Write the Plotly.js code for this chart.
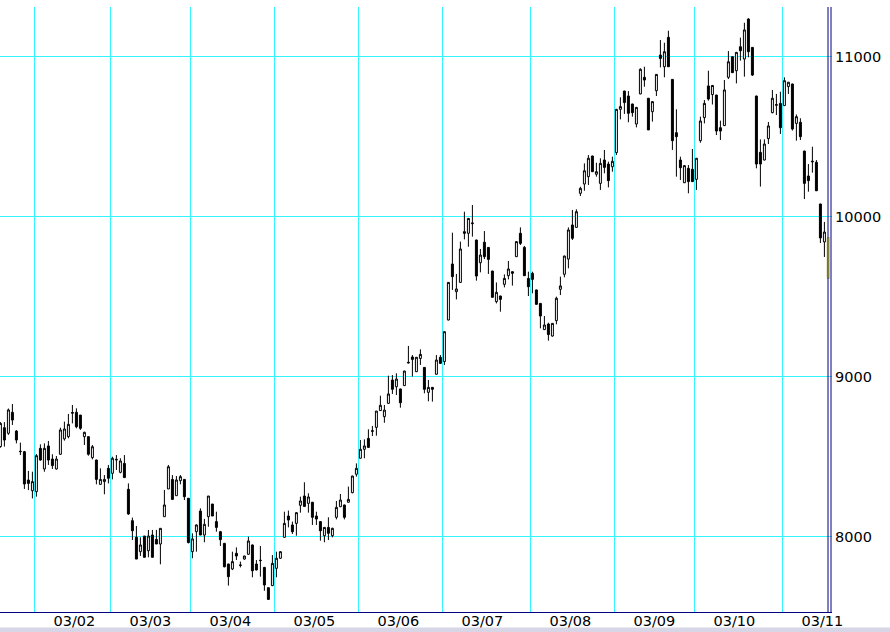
<!DOCTYPE html>
<html><head><meta charset="utf-8">
<script src="https://cdn.plot.ly/plotly-3.0.1.min.js"></script>
<style>html,body{margin:0;padding:0;background:#fff;overflow:hidden}</style>
</head><body><div id="chart" style="width:890px;height:632px"></div>
<script>
// Daily OHLC, one entry per trading day (2003/01/21 .. 2003/11/19)
const openP = [
8562,8680,8645,8776,8659,8530,8530,8353,8286,8280,
8551,8422,8566,8484,8422,8514,8610,8624,8770,8776,
8759,8624,8624,8493,8478,8326,8343,8426,8395,8478,
8401,8457,8295,8099,7995,7905,8003,7911,8009,7982,
7953,8124,8297,8357,8255,8349,8357,8239,7905,8030,
8159,8009,8124,8203,8093,8030,7957,7828,7797,7895,
7822,7859,7889,7947,7828,7849,7807,7680,7693,7801,
7864,7995,8128,8072,8082,8195,8253,8207,8214,8128,
8093,8005,8057,8005,8120,8186,8197,8214,8274,8389,
8489,8545,8613,8657,8682,8787,8749,8832,8978,8936,
8922,8943,9084,9122,9030,9113,9057,8901,8932,9014,
9120,9093,9353,9703,9530,9588,9905,9895,9955,9853,
9711,9839,9807,9659,9468,9503,9576,9630,9655,9749,
9895,9807,9613,9645,9541,9457,9293,9328,9253,9349,
9545,9639,9734,9947,9932,10145,10203,10249,10378,10264,
10207,10353,10328,10311,10399,10670,10784,10753,10703,10578,
10766,10870,10739,10655,10786,11009,10936,11120,10857,10524,
10353,10211,10301,10295,10232,10474,10618,10816,10762,10759,
10555,10568,10870,10999,10911,11061,10984,11234,11057,10753,
10401,10353,10487,10649,10695,10707,10693,10812,10828,10582,
10589,10409,10253,10341,10339,10078,9841,9866];
const highP = [
8715,8715,8800,8828,8665,8587,8535,8410,8405,8515,
8576,8582,8597,8514,8503,8680,8718,8766,8822,8801,
8759,8655,8626,8572,8480,8426,8384,8447,8499,8509,
8489,8509,8332,8118,8066,7995,8003,8041,8041,8041,
8051,8291,8447,8384,8378,8384,8357,8239,8020,8076,
8176,8110,8253,8203,8155,8035,7960,7830,7905,7932,
7843,7880,7999,7950,7853,7941,7810,7682,7884,7905,
7908,8155,8162,8093,8152,8249,8339,8270,8216,8155,
8095,8057,8120,8055,8222,8266,8199,8312,8380,8457,
8603,8607,8670,8691,8784,8880,8822,9005,9009,9020,
8924,9036,9191,9134,9122,9170,9059,8978,8934,9134,
9134,9282,9590,9899,9641,9843,10030,9990,10072,9855,
9797,9909,9809,9661,9588,9505,9638,9722,9657,9845,
9932,9816,9655,9655,9543,9459,9378,9336,9334,9499,
9624,9755,9932,10041,10045,10186,10332,10384,10380,10336,
10364,10416,10343,10374,10672,10745,10786,10784,10705,10684,
10926,10936,10741,10720,10890,11103,11086,11161,10859,10670,
10374,10320,10322,10422,10366,10624,10728,10911,10822,10761,
10599,10853,11034,11001,11028,11118,11211,11239,11059,10755,
10482,10482,10591,10791,10766,10780,10870,10841,10830,10638,
10614,10411,10328,10436,10353,10080,9966,9870];
const lowP = [
8555,8562,8635,8697,8582,8509,8297,8290,8238,8249,
8474,8405,8447,8422,8418,8510,8599,8614,8707,8676,
8666,8572,8505,8482,8326,8322,8264,8332,8357,8416,
8395,8368,8135,7978,7859,7878,7870,7870,7870,7953,
7826,8124,8297,8228,8255,8326,8228,7957,7864,7905,
8009,7964,8061,8128,8030,7941,7807,7693,7790,7853,
7807,7855,7885,7745,7788,7749,7661,7603,7690,7745,
7860,7993,8057,8016,8005,8149,8186,8149,8072,8072,
7974,7964,7978,7995,8107,8184,8107,8212,8270,8374,
8487,8489,8555,8628,8630,8785,8711,8830,8891,8884,
8805,8941,9082,9000,9028,9072,8895,8845,8843,9012,
9078,9072,9351,9541,9482,9586,9857,9811,9874,9599,
9651,9734,9641,9493,9457,9405,9557,9607,9568,9747,
9822,9628,9503,9520,9449,9301,9291,9224,9249,9326,
9509,9620,9676,9853,9930,10128,10161,10197,10278,10249,
10166,10270,10182,10280,10384,10607,10641,10589,10624,10557,
10764,10811,10541,10593,10753,10932,10870,10936,10416,10249,
10228,10209,10145,10216,10166,10461,10582,10724,10700,10509,
10478,10566,10859,10897,10832,10974,10874,10995,10878,10301,
10187,10351,10453,10645,10634,10516,10691,10766,10537,10474,
10478,10109,10155,10274,10159,9834,9747,9614];
const closeP = [
8707,8603,8791,8728,8603,8532,8328,8332,8343,8505,
8478,8551,8478,8443,8484,8666,8672,8701,8775,8686,
8676,8651,8514,8561,8357,8357,8357,8364,8489,8482,
8472,8368,8141,8036,7859,7947,7870,8003,7870,7953,
8051,8197,8436,8232,8353,8374,8249,7962,7985,8072,
8009,8076,8253,8128,8057,7980,7811,7749,7843,7878,
7820,7878,7972,7786,7791,7851,7697,7607,7832,7864,
7905,8082,8103,8030,8149,8222,8188,8247,8120,8109,
8036,8057,8020,8051,8182,8228,8120,8232,8378,8426,
8545,8566,8557,8661,8784,8820,8790,8891,8920,8984,
8836,9034,9088,9107,9120,9138,8920,8932,8920,9103,
9082,9280,9588,9624,9547,9797,9895,9988,9959,9628,
9759,9749,9732,9495,9526,9482,9613,9672,9645,9843,
9832,9630,9561,9607,9451,9378,9322,9262,9332,9489,
9566,9753,9916,9864,10030,10176,10286,10364,10280,10280,
10332,10307,10224,10345,10670,10687,10712,10645,10649,10682,
10920,10853,10541,10718,10888,10988,11030,10936,10474,10499,
10305,10318,10218,10218,10364,10597,10707,10734,10819,10534,
10534,10791,10967,10899,11026,11036,11166,11030,10884,10328,
10328,10453,10566,10739,10699,10555,10849,10839,10547,10624,
10499,10207,10224,10345,10161,9866,9903,9616];

// Month labels and the index of each month's first trading day
const monthLabels = ['03/02','03/03','03/04','03/05','03/06','03/07','03/08','03/09','03/10','03/11'];
const monthStart = [9, 28, 48, 69, 90, 111, 133, 154, 174, 196];
const yTicks = [8000, 9000, 10000, 11000];

const day = openP.map((_, i) => i);
const last = day.length - 1;

const grid = '#33F5FF';
const main = {
  type: 'candlestick', x: day, open: openP, high: highP, low: lowP, close: closeP,
  increasing: {line: {color: '#000000', width: 1}, fillcolor: '#ffffff'},
  decreasing: {line: {color: '#000000', width: 1}, fillcolor: '#000000'},
  whiskerwidth: 0, hoverinfo: 'skip', showlegend: false
};
const latest = {
  type: 'candlestick', x: [day[last]], open: [openP[last]], high: [highP[last]],
  low: [lowP[last]], close: [closeP[last]],
  increasing: {line: {color: '#F2EE00', width: 1}, fillcolor: '#FFFF00'},
  decreasing: {line: {color: '#F2EE00', width: 1}, fillcolor: '#FFFF00'},
  whiskerwidth: 0, hoverinfo: 'skip', showlegend: false
};

const layout = {
  width: 890, height: 632,
  margin: {l: 0, r: 58, t: 7, b: 20, pad: 0},
  paper_bgcolor: '#ffffff', plot_bgcolor: '#ffffff',
  showlegend: false,
  font: {family: 'DejaVu Sans, sans-serif', size: 14.5, color: '#000000'},
  xaxis: {
    range: [-0.1, 207.9], fixedrange: true,
    rangeslider: {visible: false},
    tickmode: 'array',
    tickvals: monthStart.map(s => s + 9.5),
    ticktext: monthLabels,
    ticks: '', showgrid: false, zeroline: false,
    showline: true, linecolor: '#000080', linewidth: 1,
    ticklabelstandoff: -4,
    minor: {tickmode: 'array', tickvals: monthStart.map(s => s - 0.5),
            showgrid: true, gridcolor: grid, gridwidth: 1, ticks: ''}
  },
  yaxis: {
    side: 'right', range: [7528.1, 11309.4], fixedrange: true,
    tickmode: 'array', tickvals: yTicks, ticktext: yTicks.map(String),
    ticks: '', showgrid: true, gridcolor: grid, gridwidth: 1,
    zeroline: false, showline: false, ticklabelstandoff: 2
  },
  shapes: [
    {type: 'line', xref: 'paper', yref: 'paper', x0: 828/832, x1: 828/832, y0: 0, y1: 1,
     line: {color: '#000080', width: 1}, layer: 'above'},
    {type: 'line', xref: 'paper', yref: 'paper', x0: 831/832, x1: 831/832, y0: 0, y1: 1,
     line: {color: '#000080', width: 1}, layer: 'above'},
    {type: 'rect', xref: 'paper', yref: 'paper', x0: 0, x1: 890/832, y0: -15.5/605, y1: -20/605,
     fillcolor: '#D6D6E6', line: {width: 0}, layer: 'below'}
  ]
};

Plotly.newPlot('chart', [main, latest], layout, {displayModeBar: false, staticPlot: true});
</script>
</body></html>
